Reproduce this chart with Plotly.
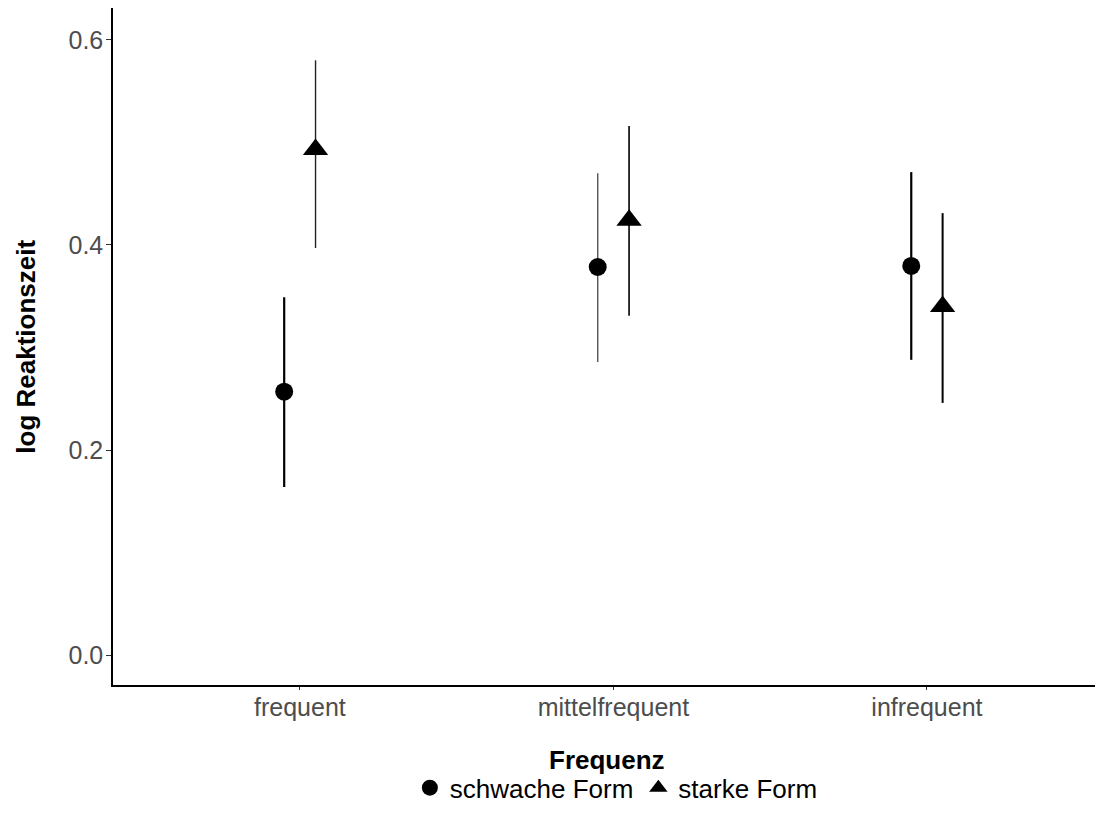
import plotly.graph_objects as go

categories = ["frequent", "mittelfrequent", "infrequent"]
groups = ["schwache Form", "starke Form"]
means = {
    "schwache Form": [0.257, 0.3785, 0.3795],
    "starke Form": [0.493, 0.424, 0.340],
}
lower = {
    "schwache Form": [0.164, 0.286, 0.288],
    "starke Form": [0.397, 0.331, 0.246],
}
upper = {
    "schwache Form": [0.349, 0.470, 0.471],
    "starke Form": [0.580, 0.516, 0.431],
}
y_ticks = [0.0, 0.2, 0.4, 0.6]

dodge = {"schwache Form": -0.05, "starke Form": 0.05}
symbols = {"schwache Form": "circle", "starke Form": "triangle-up"}
sizes = {"schwache Form": 18, "starke Form": 22}
err_width = {
    "schwache Form": [2.2, 1.4, 2.2],
    "starke Form": [1.4, 1.6, 2.0],
}
err_color = {
    "schwache Form": ["black", "#555555", "black"],
    "starke Form": ["#222222", "black", "black"],
}

fig = go.Figure()
for g in groups:
    for i, c in enumerate(categories):
        xp = i + dodge[g]
        fig.add_trace(go.Scatter(
            x=[xp, xp], y=[lower[g][i], upper[g][i]], mode="lines",
            line=dict(color=err_color[g][i], width=err_width[g][i]),
            showlegend=False, hoverinfo="skip"))
for g in groups:
    fig.add_trace(go.Scatter(
        x=[i + dodge[g] for i in range(len(categories))], y=means[g],
        mode="markers", name=g,
        marker=dict(symbol=symbols[g], size=sizes[g], color="black",
                    line=dict(width=0))))

FS = 25
FT = 26
fig.update_layout(
    width=1103, height=826,
    margin=dict(l=105, r=11, t=0, b=149, autoexpand=False),
    plot_bgcolor="white", paper_bgcolor="white",
    font=dict(family="Liberation Sans, Arial", size=FS, color="black"),
    legend=dict(orientation="h", x=0.51, xanchor="center",
                yref="container", y=0.056, yanchor="middle",
                font=dict(size=FT, color="black"),
                itemwidth=30, tracegroupgap=0),
    annotations=[
        dict(text="<b>Frequenz</b>", xref="paper", yref="paper",
             x=0.5, y=-0.111, xanchor="center", yanchor="middle",
             showarrow=False, font=dict(size=FT, color="black")),
        dict(text="<b>log Reaktionszeit</b>", xref="paper", yref="paper",
             x=-0.089, y=0.5, xanchor="center", yanchor="middle",
             textangle=-90, showarrow=False, font=dict(size=FT, color="black")),
    ],
)
fig.update_xaxes(
    range=[-0.596, 2.552], tickmode="array", tickvals=[0, 1, 2],
    ticktext=categories, showgrid=False, zeroline=False,
    showline=True, linecolor="black", linewidth=1.5,
    ticks="outside", ticklen=3, tickcolor="#333333", ticklabelstandoff=-4,
    tickfont=dict(size=FS, color="#4d4d4d"), automargin=False,
)
fig.update_yaxes(
    range=[-0.029, 0.631], tickmode="array", tickvals=y_ticks,
    ticktext=[f"{v:.1f}" for v in y_ticks], showgrid=False, zeroline=False,
    showline=True, linecolor="black", linewidth=1.5,
    ticks="outside", ticklen=5, tickcolor="#333333", ticklabelstandoff=-2,
    tickfont=dict(size=FS, color="#4d4d4d"), automargin=False,
)
fig.write_html("out.html")
